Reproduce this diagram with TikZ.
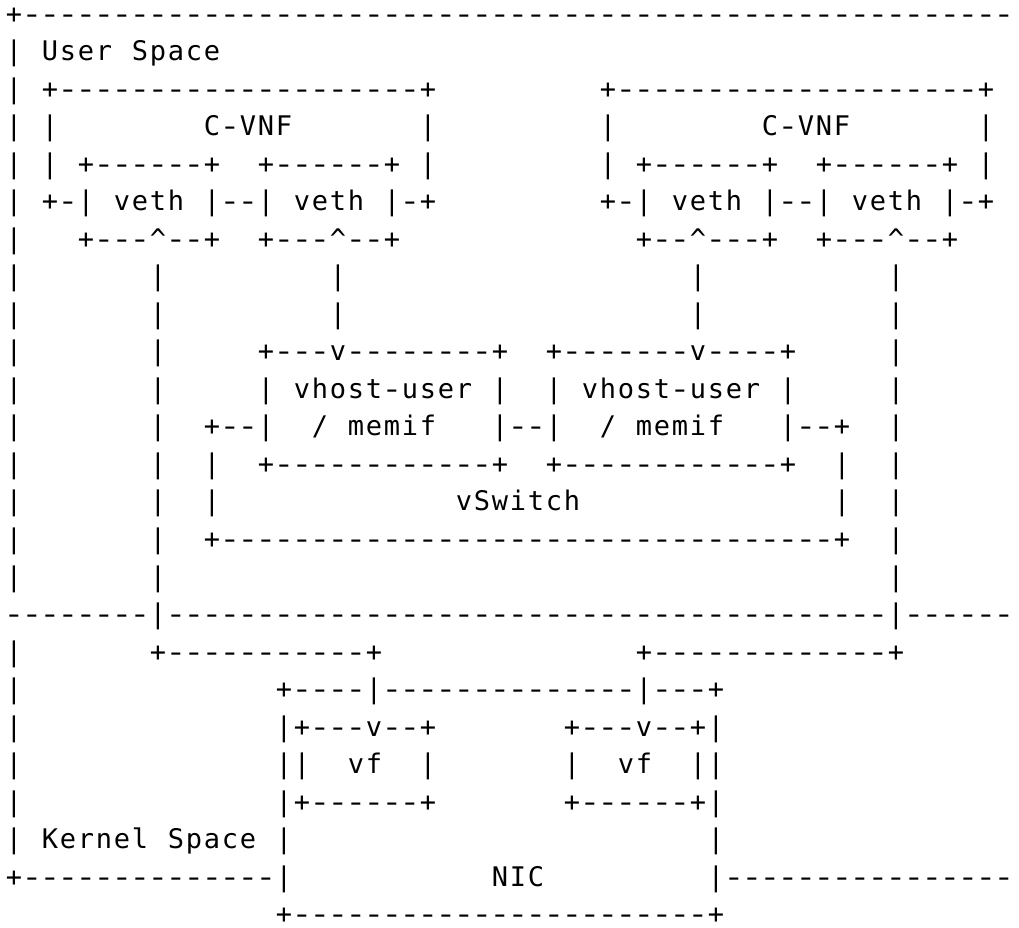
\documentclass[tikz,border=0pt]{standalone}
\usepackage{fontspec}
\usepackage{graphicx}
\newfontfamily\asciifont{DejaVu Sans Mono}
\ExplSyntaxOn
\cs_new:Npn \R #1#2 { \prg_replicate:nn {#1} {#2} }
\ExplSyntaxOff
% one character cell of the ASCII grid: '.' = blank, 'A' = caret
\newcommand\gcell[1]{\makebox[18pt][c]{\ifx.#1\else\ifx A#1\textasciicircum\else\ifx-#1\scalebox{1.3}[1]{-}\else#1\fi\fi\fi}}
\def\gridloop#1{\ifx\relax#1\else\gcell{#1}\expandafter\gridloop\fi}
\newcommand\gline[1]{\edef\glinetmp{#1}\expandafter\gridloop\glinetmp\relax}
\tikzset{
  asciirow/.style={anchor=base west, inner sep=0pt, outer sep=0pt,
    font=\asciifont\fontsize{27}{30}\selectfont, text=black}
}
\begin{document}
\begin{tikzpicture}[x=1pt,y=1pt]
\fill[white] (0,0) rectangle (1019,927);
\useasboundingbox (0,0) rectangle (1019,927);
\foreach \i/\txt in {%
 1/{+\R{55}{-}},%
 2/{|.User.Space},%
 3/{|.+\R{20}{-}+\R{9}{.}+\R{20}{-}+},%
 4/{|.|\R{8}{.}C-VNF\R{7}{.}|\R{9}{.}|\R{8}{.}C-VNF\R{7}{.}|},%
 5/{|.|.+\R{6}{-}+..+\R{6}{-}+.|\R{9}{.}|.+\R{6}{-}+..+\R{6}{-}+.|},%
 6/{|.+-|.veth.|--|.veth.|-+\R{9}{.}+-|.veth.|--|.veth.|-+},%
 7/{|...+---A--+..+---A--+\R{13}{.}+--A---+..+---A--+},%
 8/{|\R{7}{.}|\R{9}{.}|\R{19}{.}|\R{10}{.}|},%
 9/{|\R{7}{.}|\R{9}{.}|\R{19}{.}|\R{10}{.}|},%
 10/{|\R{7}{.}|\R{5}{.}+---v\R{8}{-}+..+\R{7}{-}v----+\R{5}{.}|},%
 11/{|\R{7}{.}|\R{5}{.}|.vhost-user.|..|.vhost-user.|\R{5}{.}|},%
 12/{|\R{7}{.}|..+--|../.memif...|--|../.memif...|--+..|},%
 13/{|\R{7}{.}|..|..+\R{12}{-}+..+\R{12}{-}+..|..|},%
 14/{|\R{7}{.}|..|\R{13}{.}vSwitch\R{14}{.}|..|},%
 15/{|\R{7}{.}|..+\R{34}{-}+..|},%
 16/{|\R{7}{.}|\R{40}{.}|},%
 17/{\R{8}{-}|\R{40}{-}|\R{6}{-}},%
 18/{|\R{7}{.}+\R{11}{-}+\R{14}{.}+\R{13}{-}+},%
 19/{|\R{14}{.}+----|\R{14}{-}|---+},%
 20/{|\R{14}{.}|+---v--+\R{7}{.}+---v--+|},%
 21/{|\R{14}{.}||..vf..|\R{7}{.}|..vf..||},%
 22/{|\R{14}{.}|+\R{6}{-}+\R{7}{.}+\R{6}{-}+|},%
 23/{|.Kernel.Space.|\R{23}{.}|},%
 24/{+\R{14}{-}|\R{11}{.}NIC\R{9}{.}|\R{16}{-}},%
 25/{\R{15}{.}+\R{23}{-}+}%
}{%
  \node[asciirow] (l\i) at (5, {903.5-37.5*(\i-1)}) {\gline{\txt}};
}
\end{tikzpicture}
\end{document}
